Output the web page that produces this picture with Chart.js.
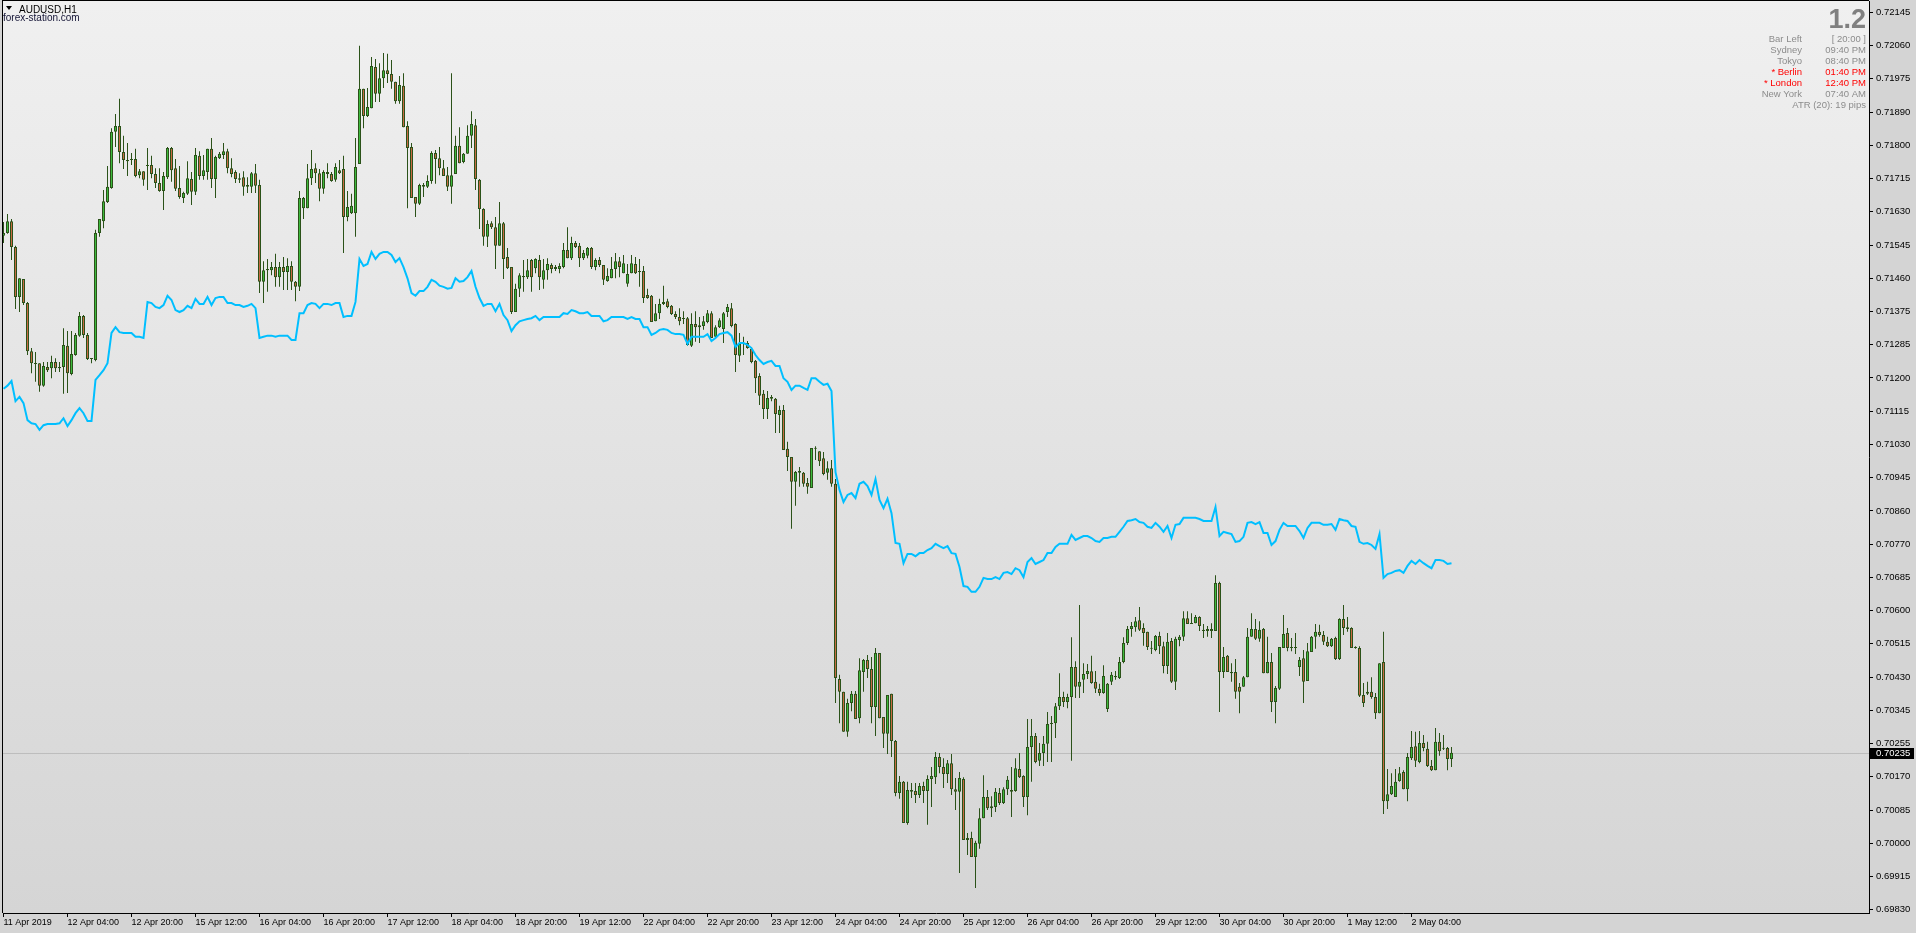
<!DOCTYPE html>
<html><head><meta charset="utf-8">
<script src="https://cdn.jsdelivr.net/npm/chart.js@4.4.1/dist/chart.umd.min.js"></script>
<style>html,body{margin:0;padding:0;background:#d4d4d4;overflow:hidden}canvas{display:block}</style>
</head><body>
<canvas id="c" width="1916" height="933"></canvas>
<script>
const symbolTitle = 'AUDUSD,H1';
const siteName = 'forex-station.com';
const xTickLabels = ['11 Apr 2019','12 Apr 04:00','12 Apr 20:00','15 Apr 12:00','16 Apr 04:00','16 Apr 20:00','17 Apr 12:00','18 Apr 04:00','18 Apr 20:00','19 Apr 12:00','22 Apr 04:00','22 Apr 20:00','23 Apr 12:00','24 Apr 04:00','24 Apr 20:00','25 Apr 12:00','26 Apr 04:00','26 Apr 20:00','29 Apr 12:00','30 Apr 04:00','30 Apr 20:00','1 May 12:00','2 May 04:00'];
const barsPerLabel = 16;
const yTickLabels = ['0.72145','0.72060','0.71975','0.71890','0.71800','0.71715','0.71630','0.71545','0.71460','0.71375','0.71285','0.71200','0.71115','0.71030','0.70945','0.70860','0.70770','0.70685','0.70600','0.70515','0.70430','0.70345','0.70255','0.70170','0.70085','0.70000','0.69915','0.69830'];
const currentPrice = 0.70235;
const infoBig = '1.2';
const infoLabels = ['Bar Left','Sydney','Tokyo','* Berlin','* London','New York'];
const infoValues = ['[ 20:00 ]','09:40 PM','08:40 PM','01:40 PM','12:40 PM','07:40 AM'];
const infoRed = [false,false,false,true,true,false];
const atrText = 'ATR (20): 19 pips';

const opens = [
0.71569,0.71576,0.71606,0.71540,0.71411,0.71457,0.71395,0.71271,0.71240,0.71240,
0.71182,0.71230,0.71227,0.71243,0.71230,0.71230,0.71285,0.71212,0.71261,0.71311,
0.71362,0.71313,0.71251,0.71248,0.71576,0.71606,0.71656,0.71692,0.71837,0.71852,
0.71785,0.71761,0.71764,0.71767,0.71725,0.71735,0.71751,0.71751,0.71728,0.71705,
0.71684,0.71720,0.71795,0.71743,0.71692,0.71666,0.71677,0.71715,0.71682,0.71775,
0.71723,0.71733,0.71793,0.71715,0.71769,0.71777,0.71787,0.71743,0.71733,0.71717,
0.71720,0.71695,0.71695,0.71730,0.71700,0.71450,0.71480,0.71480,0.71488,0.71462,
0.71488,0.71475,0.71491,0.71450,0.71437,0.71640,0.71640,0.71717,0.71743,0.71730,
0.71690,0.71728,0.71728,0.71713,0.71738,0.71741,0.71617,0.71627,0.71627,0.71754,
0.71948,0.71878,0.71898,0.72004,0.71935,0.71975,0.71996,0.71986,0.71966,0.71916,
0.71956,0.71852,0.71798,0.71669,0.71651,0.71700,0.71695,0.71710,0.71782,0.71769,
0.71743,0.71725,0.71695,0.71728,0.71801,0.71759,0.71780,0.71827,0.71854,0.71713,
0.71638,0.71566,0.71601,0.71591,0.71543,0.71601,0.71514,0.71488,0.71372,0.71432,
0.71462,0.71462,0.71506,0.71485,0.71506,0.71455,0.71480,0.71493,0.71483,0.71483,
0.71488,0.71532,0.71511,0.71550,0.71543,0.71511,0.71517,0.71537,0.71488,0.71506,
0.71493,0.71452,0.71459,0.71483,0.71503,0.71472,0.71445,0.71472,0.71496,0.71475,
0.71478,0.71416,0.71414,0.71348,0.71369,0.71393,0.71400,0.71388,0.71367,0.71359,
0.71354,0.71356,0.71285,0.71341,0.71333,0.71336,0.71346,0.71369,0.71308,0.71333,
0.71328,0.71372,0.71382,0.71341,0.71259,0.71290,0.71292,0.71277,0.71246,0.71207,
0.71161,0.71122,0.71153,0.71148,0.71106,0.71119,0.71019,0.70998,0.70934,0.70962,
0.70957,0.70931,0.70918,0.71021,0.71013,0.70995,0.70957,0.70969,0.70929,0.70425,
0.70392,0.70289,0.70363,0.70387,0.70324,0.70443,0.70474,0.70451,0.70353,0.70492,
0.70327,0.70284,0.70387,0.70265,0.70131,0.70160,0.70054,0.70134,0.70136,0.70126,
0.70149,0.70136,0.70167,0.70172,0.70224,0.70198,0.70180,0.70208,0.70141,0.70134,
0.70167,0.70015,0.70015,0.69966,0.70000,0.70066,0.70121,0.70097,0.70095,0.70131,
0.70105,0.70141,0.70139,0.70136,0.70193,0.70175,0.70121,0.70250,0.70278,0.70214,
0.70234,0.70258,0.70309,0.70311,0.70355,0.70379,0.70366,0.70379,0.70456,0.70405,
0.70423,0.70438,0.70445,0.70418,0.70400,0.70389,0.70348,0.70418,0.70430,0.70428,
0.70469,0.70518,0.70554,0.70559,0.70577,0.70557,0.70547,0.70505,0.70500,0.70536,
0.70510,0.70459,0.70523,0.70418,0.70526,0.70534,0.70582,0.70567,0.70569,0.70585,
0.70552,0.70549,0.70554,0.70549,0.70673,0.70443,0.70485,0.70443,0.70443,0.70405,
0.70405,0.70430,0.70534,0.70554,0.70529,0.70554,0.70440,0.70469,0.70366,0.70400,
0.70505,0.70544,0.70505,0.70508,0.70456,0.70479,0.70420,0.70495,0.70534,0.70547,
0.70539,0.70521,0.70510,0.70531,0.70477,0.70580,0.70559,0.70557,0.70505,0.70505,
0.70384,0.70387,0.70392,0.70379,0.70337,0.70469,0.70110,0.70128,0.70121,0.70162,
0.70185,0.70141,0.70221,0.70252,0.70211,0.70260,0.70245,0.70201,0.70190,0.70263,
0.70247,0.70247,0.70219];

const highs = [
0.71604,0.71625,0.71612,0.71543,0.71459,0.71457,0.71398,0.71279,0.71269,0.71240,
0.71243,0.71243,0.71259,0.71253,0.71243,0.71330,0.71323,0.71323,0.71318,0.71372,
0.71364,0.71318,0.71253,0.71584,0.71612,0.71687,0.71749,0.71846,0.71883,0.71922,
0.71827,0.71808,0.71782,0.71793,0.71741,0.71735,0.71795,0.71775,0.71743,0.71743,
0.71733,0.71798,0.71798,0.71767,0.71749,0.71682,0.71761,0.71733,0.71795,0.71787,
0.71777,0.71793,0.71821,0.71775,0.71785,0.71808,0.71793,0.71769,0.71738,0.71730,
0.71735,0.71720,0.71733,0.71754,0.71713,0.71503,0.71509,0.71501,0.71522,0.71501,
0.71514,0.71511,0.71503,0.71452,0.71684,0.71669,0.71754,0.71790,0.71756,0.71741,
0.71738,0.71756,0.71733,0.71756,0.71764,0.71775,0.71684,0.71677,0.71821,0.72059,
0.71948,0.71950,0.72030,0.72025,0.72014,0.72040,0.72038,0.72022,0.71966,0.71981,
0.71988,0.71864,0.71808,0.71669,0.71703,0.71705,0.71725,0.71787,0.71790,0.71798,
0.71764,0.71746,0.71988,0.71827,0.71849,0.71782,0.71854,0.71890,0.71870,0.71715,
0.71640,0.71609,0.71606,0.71617,0.71656,0.71604,0.71537,0.71488,0.71445,0.71472,
0.71506,0.71509,0.71509,0.71511,0.71519,0.71509,0.71511,0.71498,0.71493,0.71498,
0.71550,0.71591,0.71566,0.71555,0.71550,0.71532,0.71540,0.71540,0.71511,0.71514,
0.71493,0.71485,0.71514,0.71524,0.71514,0.71519,0.71496,0.71519,0.71514,0.71509,
0.71491,0.71432,0.71416,0.71393,0.71406,0.71440,0.71406,0.71390,0.71374,0.71382,
0.71374,0.71359,0.71369,0.71374,0.71359,0.71362,0.71377,0.71374,0.71338,0.71356,
0.71372,0.71393,0.71395,0.71343,0.71318,0.71308,0.71297,0.71282,0.71248,0.71214,
0.71171,0.71168,0.71158,0.71150,0.71130,0.71132,0.71037,0.70998,0.70962,0.70972,
0.70959,0.70944,0.71021,0.71026,0.71013,0.71011,0.70987,0.70990,0.70941,0.70436,
0.70392,0.70374,0.70394,0.70394,0.70479,0.70477,0.70487,0.70482,0.70505,0.70492,
0.70327,0.70384,0.70387,0.70268,0.70175,0.70162,0.70160,0.70157,0.70157,0.70157,
0.70160,0.70177,0.70198,0.70237,0.70234,0.70221,0.70216,0.70232,0.70170,0.70185,
0.70172,0.70028,0.70031,0.70008,0.70092,0.70177,0.70139,0.70123,0.70144,0.70144,
0.70146,0.70175,0.70198,0.70221,0.70234,0.70177,0.70322,0.70322,0.70286,0.70260,
0.70278,0.70340,0.70330,0.70363,0.70440,0.70392,0.70387,0.70533,0.70471,0.70616,
0.70466,0.70464,0.70485,0.70446,0.70413,0.70461,0.70415,0.70443,0.70446,0.70482,
0.70533,0.70562,0.70572,0.70585,0.70611,0.70569,0.70547,0.70523,0.70539,0.70547,
0.70521,0.70544,0.70531,0.70534,0.70539,0.70600,0.70600,0.70595,0.70590,0.70587,
0.70567,0.70562,0.70569,0.70693,0.70676,0.70508,0.70487,0.70466,0.70477,0.70415,
0.70433,0.70557,0.70595,0.70580,0.70574,0.70557,0.70534,0.70492,0.70407,0.70508,
0.70590,0.70557,0.70531,0.70544,0.70482,0.70500,0.70518,0.70536,0.70567,0.70565,
0.70549,0.70534,0.70531,0.70534,0.70582,0.70616,0.70585,0.70559,0.70510,0.70510,
0.70415,0.70418,0.70430,0.70389,0.70466,0.70547,0.70193,0.70182,0.70193,0.70198,
0.70190,0.70234,0.70291,0.70289,0.70291,0.70281,0.70263,0.70216,0.70299,0.70286,
0.70281,0.70250,0.70250];

const lows = [
0.71550,0.71574,0.71506,0.71380,0.71372,0.71390,0.71261,0.71214,0.71192,0.71166,
0.71179,0.71217,0.71201,0.71217,0.71217,0.71161,0.71163,0.71209,0.71259,0.71308,
0.71305,0.71248,0.71240,0.71245,0.71566,0.71588,0.71653,0.71690,0.71798,0.71756,
0.71741,0.71723,0.71751,0.71720,0.71717,0.71698,0.71687,0.71717,0.71692,0.71682,
0.71635,0.71715,0.71708,0.71684,0.71664,0.71653,0.71674,0.71648,0.71674,0.71713,
0.71713,0.71713,0.71692,0.71666,0.71767,0.71767,0.71730,0.71720,0.71705,0.71705,
0.71672,0.71679,0.71679,0.71679,0.71421,0.71395,0.71424,0.71467,0.71437,0.71437,
0.71429,0.71429,0.71429,0.71400,0.71426,0.71612,0.71640,0.71700,0.71705,0.71658,
0.71677,0.71717,0.71708,0.71708,0.71728,0.71524,0.71606,0.71625,0.71566,0.71754,
0.71846,0.71875,0.71898,0.71914,0.71914,0.71950,0.71963,0.71948,0.71909,0.71909,
0.71849,0.71640,0.71666,0.71617,0.71648,0.71669,0.71692,0.71703,0.71703,0.71725,
0.71723,0.71684,0.71651,0.71728,0.71756,0.71756,0.71780,0.71795,0.71687,0.71586,
0.71543,0.71540,0.71586,0.71483,0.71543,0.71457,0.71483,0.71367,0.71372,0.71411,
0.71424,0.71457,0.71424,0.71472,0.71429,0.71432,0.71455,0.71472,0.71478,0.71472,
0.71485,0.71511,0.71506,0.71537,0.71488,0.71506,0.71511,0.71483,0.71480,0.71488,
0.71442,0.71450,0.71459,0.71459,0.71462,0.71472,0.71437,0.71472,0.71470,0.71437,
0.71395,0.71406,0.71346,0.71348,0.71354,0.71390,0.71382,0.71364,0.71354,0.71338,
0.71341,0.71285,0.71282,0.71295,0.71292,0.71326,0.71343,0.71305,0.71305,0.71331,
0.71292,0.71359,0.71333,0.71217,0.71243,0.71261,0.71277,0.71240,0.71163,0.71132,
0.71096,0.71096,0.71142,0.71060,0.71060,0.71016,0.70962,0.70813,0.70872,0.70921,
0.70921,0.70903,0.70918,0.70990,0.70975,0.70951,0.70939,0.70921,0.70363,0.70311,
0.70289,0.70276,0.70342,0.70322,0.70311,0.70392,0.70428,0.70311,0.70278,0.70324,
0.70247,0.70232,0.70224,0.70123,0.70116,0.70054,0.70049,0.70118,0.70105,0.70118,
0.70105,0.70049,0.70095,0.70154,0.70182,0.70144,0.70157,0.70126,0.70087,0.69925,
0.70010,0.69971,0.69966,0.69886,0.69987,0.70066,0.70087,0.70069,0.70082,0.70100,
0.70103,0.70126,0.70069,0.70134,0.70170,0.70095,0.70074,0.70160,0.70208,0.70201,
0.70201,0.70211,0.70211,0.70273,0.70345,0.70353,0.70350,0.70214,0.70376,0.70376,
0.70389,0.70425,0.70413,0.70389,0.70382,0.70387,0.70340,0.70410,0.70423,0.70425,
0.70466,0.70513,0.70534,0.70547,0.70549,0.70511,0.70500,0.70490,0.70497,0.70490,
0.70440,0.70438,0.70415,0.70397,0.70510,0.70523,0.70567,0.70567,0.70569,0.70549,
0.70531,0.70534,0.70531,0.70549,0.70340,0.70428,0.70443,0.70418,0.70374,0.70337,
0.70405,0.70430,0.70534,0.70526,0.70521,0.70440,0.70440,0.70340,0.70311,0.70397,
0.70505,0.70497,0.70497,0.70490,0.70433,0.70363,0.70420,0.70495,0.70503,0.70534,
0.70513,0.70508,0.70508,0.70474,0.70474,0.70539,0.70547,0.70505,0.70503,0.70379,
0.70353,0.70384,0.70374,0.70322,0.70337,0.70077,0.70090,0.70126,0.70121,0.70160,
0.70141,0.70110,0.70216,0.70198,0.70208,0.70239,0.70198,0.70188,0.70190,0.70227,
0.70242,0.70190,0.70198];

const closes = [
0.71576,0.71606,0.71540,0.71411,0.71459,0.71395,0.71271,0.71240,0.71238,0.71182,
0.71233,0.71222,0.71243,0.71227,0.71227,0.71287,0.71214,0.71264,0.71313,0.71362,
0.71313,0.71251,0.71253,0.71576,0.71612,0.71658,0.71695,0.71837,0.71852,0.71785,
0.71764,0.71764,0.71767,0.71723,0.71735,0.71713,0.71749,0.71728,0.71705,0.71684,
0.71723,0.71795,0.71738,0.71690,0.71669,0.71679,0.71717,0.71682,0.71777,0.71723,
0.71738,0.71793,0.71715,0.71772,0.71780,0.71787,0.71743,0.71728,0.71715,0.71713,
0.71695,0.71700,0.71730,0.71698,0.71450,0.71480,0.71483,0.71488,0.71462,0.71488,
0.71475,0.71491,0.71450,0.71437,0.71666,0.71666,0.71717,0.71741,0.71730,0.71690,
0.71733,0.71733,0.71710,0.71746,0.71730,0.71617,0.71643,0.71646,0.71746,0.71948,
0.71878,0.71901,0.72007,0.71935,0.71975,0.71996,0.71986,0.71966,0.71916,0.71958,
0.71849,0.71795,0.71666,0.71651,0.71700,0.71695,0.71710,0.71782,0.71767,0.71743,
0.71723,0.71695,0.71725,0.71801,0.71756,0.71780,0.71827,0.71857,0.71715,0.71638,
0.71566,0.71599,0.71591,0.71543,0.71601,0.71509,0.71485,0.71372,0.71432,0.71467,
0.71465,0.71480,0.71462,0.71509,0.71462,0.71480,0.71496,0.71483,0.71488,0.71491,
0.71532,0.71511,0.71550,0.71540,0.71511,0.71524,0.71537,0.71488,0.71506,0.71493,
0.71455,0.71465,0.71483,0.71503,0.71488,0.71498,0.71470,0.71498,0.71472,0.71478,
0.71408,0.71408,0.71346,0.71369,0.71393,0.71398,0.71385,0.71367,0.71359,0.71348,
0.71356,0.71287,0.71341,0.71333,0.71338,0.71348,0.71369,0.71305,0.71333,0.71351,
0.71369,0.71385,0.71336,0.71261,0.71290,0.71292,0.71279,0.71243,0.71201,0.71156,
0.71122,0.71150,0.71148,0.71109,0.71119,0.71016,0.70998,0.70934,0.70959,0.70957,
0.70929,0.70921,0.71021,0.71019,0.70987,0.70954,0.70969,0.70929,0.70428,0.70392,
0.70289,0.70363,0.70387,0.70322,0.70448,0.70474,0.70451,0.70353,0.70492,0.70324,
0.70284,0.70384,0.70265,0.70131,0.70160,0.70054,0.70139,0.70139,0.70126,0.70149,
0.70136,0.70167,0.70175,0.70224,0.70198,0.70180,0.70208,0.70141,0.70134,0.70170,
0.70010,0.70010,0.69966,0.70003,0.70066,0.70121,0.70092,0.70092,0.70134,0.70105,
0.70141,0.70165,0.70134,0.70195,0.70172,0.70121,0.70250,0.70278,0.70211,0.70234,
0.70258,0.70309,0.70311,0.70355,0.70379,0.70366,0.70379,0.70456,0.70405,0.70418,
0.70438,0.70446,0.70415,0.70400,0.70389,0.70433,0.70413,0.70436,0.70433,0.70469,
0.70518,0.70554,0.70562,0.70574,0.70552,0.70544,0.70508,0.70503,0.70536,0.70510,
0.70459,0.70521,0.70418,0.70529,0.70534,0.70582,0.70567,0.70569,0.70585,0.70562,
0.70549,0.70554,0.70549,0.70673,0.70443,0.70482,0.70443,0.70440,0.70392,0.70392,
0.70430,0.70534,0.70554,0.70529,0.70552,0.70440,0.70469,0.70366,0.70402,0.70508,
0.70541,0.70505,0.70506,0.70505,0.70474,0.70418,0.70497,0.70534,0.70547,0.70539,
0.70521,0.70510,0.70529,0.70477,0.70580,0.70557,0.70554,0.70505,0.70508,0.70382,
0.70363,0.70392,0.70379,0.70337,0.70466,0.70110,0.70128,0.70149,0.70160,0.70182,
0.70141,0.70224,0.70250,0.70214,0.70260,0.70247,0.70201,0.70190,0.70263,0.70239,
0.70245,0.70219,0.70235];

const blueLine = [
0.71174,0.71182,0.71194,0.71142,0.71153,0.71137,0.71093,0.71085,0.71083,0.71068,
0.71080,0.71083,0.71083,0.71083,0.71085,0.71098,0.71078,0.71093,0.71111,0.71124,
0.71111,0.71091,0.71091,0.71197,0.71209,0.71222,0.71240,0.71318,0.71333,0.71320,
0.71318,0.71318,0.71318,0.71308,0.71308,0.71305,0.71398,0.71395,0.71385,0.71382,
0.71390,0.71414,0.71403,0.71377,0.71372,0.71377,0.71388,0.71382,0.71406,0.71393,
0.71393,0.71411,0.71390,0.71408,0.71411,0.71411,0.71395,0.71395,0.71390,0.71390,
0.71385,0.71388,0.71393,0.71382,0.71305,0.71308,0.71311,0.71311,0.71308,0.71311,
0.71311,0.71311,0.71300,0.71300,0.71369,0.71369,0.71390,0.71395,0.71393,0.71382,
0.71393,0.71393,0.71390,0.71395,0.71395,0.71359,0.71362,0.71362,0.71398,0.71509,
0.71491,0.71496,0.71527,0.71509,0.71522,0.71527,0.71527,0.71519,0.71501,0.71511,
0.71488,0.71459,0.71421,0.71414,0.71426,0.71426,0.71437,0.71455,0.71450,0.71440,
0.71437,0.71432,0.71434,0.71459,0.71450,0.71452,0.71462,0.71478,0.71437,0.71408,
0.71388,0.71393,0.71393,0.71374,0.71393,0.71364,0.71351,0.71323,0.71338,0.71348,
0.71351,0.71354,0.71356,0.71362,0.71351,0.71359,0.71359,0.71359,0.71359,0.71359,
0.71369,0.71367,0.71377,0.71374,0.71369,0.71369,0.71372,0.71362,0.71362,0.71362,
0.71348,0.71351,0.71359,0.71359,0.71359,0.71359,0.71354,0.71359,0.71354,0.71354,
0.71333,0.71333,0.71313,0.71318,0.71326,0.71328,0.71326,0.71318,0.71315,0.71315,
0.71313,0.71290,0.71308,0.71308,0.71308,0.71308,0.71315,0.71297,0.71305,0.71315,
0.71318,0.71320,0.71311,0.71282,0.71292,0.71292,0.71287,0.71279,0.71261,0.71248,
0.71238,0.71243,0.71246,0.71233,0.71233,0.71201,0.71192,0.71171,0.71182,0.71182,
0.71176,0.71171,0.71201,0.71201,0.71192,0.71184,0.71187,0.71168,0.70959,0.70913,
0.70882,0.70900,0.70905,0.70892,0.70929,0.70934,0.70923,0.70900,0.70941,0.70887,
0.70866,0.70890,0.70853,0.70776,0.70774,0.70724,0.70748,0.70748,0.70742,0.70750,
0.70750,0.70758,0.70763,0.70774,0.70768,0.70763,0.70768,0.70750,0.70748,0.70714,
0.70665,0.70663,0.70650,0.70650,0.70663,0.70686,0.70683,0.70683,0.70688,0.70683,
0.70699,0.70701,0.70696,0.70711,0.70706,0.70688,0.70727,0.70737,0.70722,0.70727,
0.70732,0.70750,0.70750,0.70766,0.70774,0.70774,0.70774,0.70797,0.70784,0.70789,
0.70794,0.70794,0.70789,0.70781,0.70779,0.70789,0.70789,0.70792,0.70792,0.70805,
0.70818,0.70833,0.70835,0.70838,0.70830,0.70828,0.70818,0.70815,0.70828,0.70818,
0.70805,0.70820,0.70789,0.70823,0.70825,0.70841,0.70841,0.70841,0.70841,0.70838,
0.70833,0.70833,0.70833,0.70869,0.70794,0.70805,0.70802,0.70799,0.70779,0.70781,
0.70792,0.70828,0.70830,0.70825,0.70830,0.70802,0.70802,0.70771,0.70781,0.70810,
0.70828,0.70820,0.70820,0.70820,0.70807,0.70789,0.70815,0.70828,0.70828,0.70828,
0.70823,0.70823,0.70825,0.70810,0.70838,0.70835,0.70833,0.70820,0.70818,0.70779,
0.70774,0.70776,0.70771,0.70761,0.70799,0.70686,0.70696,0.70699,0.70704,0.70706,
0.70699,0.70717,0.70730,0.70722,0.70732,0.70724,0.70717,0.70711,0.70732,0.70732,
0.70730,0.70722,0.70724];

// ---- styling ----
const BULL = '#3dba3d', BEAR = '#c76a43', EDGE = '#2b5219', LINE = '#00bfff';
const FONT = 'Liberation Sans';

const n = closes.length;
const idx = Array.from({length: n}, (_, i) => i);
const bodyData = idx.map(i => ({x: i, y: [Math.min(opens[i], closes[i]), Math.max(opens[i], closes[i])]}));
const wickData = idx.map(i => ({x: i, y: [lows[i], highs[i]]}));
const bodyColors = idx.map(i => closes[i] >= opens[i] ? BULL : BEAR);
const lineData = idx.map(i => ({x: i, y: blueLine[i]}));
const xTickVals = xTickLabels.map((_, k) => k * barsPerLabel);
const yTop = parseFloat(yTickLabels[0]), yBot = parseFloat(yTickLabels[yTickLabels.length - 1]);
const yStep = (yTop - yBot) / (yTickLabels.length - 1);
const yTickVals = yTickLabels.map((_, k) => yTop - k * yStep);

const decor = {
  id: 'decor',
  beforeDraw(chart) {
    const {ctx, chartArea: a} = chart;
    ctx.save();
    ctx.fillStyle = '#d4d4d4';
    ctx.fillRect(0, 0, chart.width, chart.height);
    const g = ctx.createLinearGradient(0, a.top, 0, a.bottom);
    g.addColorStop(0, '#f0f0f0');
    g.addColorStop(1, '#d5d5d5');
    ctx.fillStyle = g;
    ctx.fillRect(a.left, a.top, a.right - a.left, a.bottom - a.top);
    ctx.restore();
  },
  beforeDatasetsDraw(chart) {
    const {ctx, chartArea: a} = chart;
    const y = Math.round(chart.scales.y.getPixelForValue(currentPrice)) + 0.5;
    ctx.save();
    ctx.strokeStyle = '#bdbdbd';
    ctx.lineWidth = 1;
    ctx.beginPath();
    ctx.moveTo(a.left, y);
    ctx.lineTo(a.right, y);
    ctx.stroke();
    ctx.restore();
  },
  afterDraw(chart) {
    const {ctx, chartArea: a} = chart;
    ctx.save();
    ctx.fillStyle = '#000';
    ctx.fillRect(a.left - 1, 0, 1, a.bottom);
    ctx.fillRect(a.left - 1, 0, a.right - a.left + 1, 1);
    ctx.beginPath();
    ctx.moveTo(6, 6); ctx.lineTo(12, 6); ctx.lineTo(9, 10); ctx.closePath();
    ctx.fill();
    ctx.font = '10px "' + FONT + '"';
    ctx.textBaseline = 'alphabetic';
    ctx.textAlign = 'left';
    ctx.fillStyle = '#000';
    ctx.fillText(symbolTitle, 19, 13);
    ctx.fillStyle = '#141436';
    ctx.fillText(siteName, 3, 21);
    ctx.textAlign = 'right';
    ctx.fillStyle = '#808080';
    ctx.font = 'bold 27px "' + FONT + '"';
    ctx.fillText(infoBig, 1866, 28);
    ctx.font = '9.5px "' + FONT + '"';
    infoLabels.forEach((lab, k) => {
      ctx.fillStyle = infoRed[k] ? '#ff0000' : '#8c8c8c';
      ctx.fillText(lab, 1802, 42 + 11 * k);
      ctx.fillText(infoValues[k], 1866, 42 + 11 * k);
    });
    ctx.fillStyle = '#8c8c8c';
    ctx.fillText(atrText, 1866, 108);
    const yp = Math.round(chart.scales.y.getPixelForValue(currentPrice));
    ctx.fillStyle = '#000';
    ctx.fillRect(a.right + 1, yp - 5, 44, 11);
    ctx.fillStyle = '#fff';
    ctx.textAlign = 'left';
    ctx.textBaseline = 'middle';
    ctx.font = '9.5px "' + FONT + '"';
    ctx.fillText(currentPrice.toFixed(5), a.right + 7, yp + 0.5);
    ctx.restore();
  }
};

new Chart(document.getElementById('c'), {
  type: 'bar',
  data: {
    datasets: [
      {type: 'line', data: lineData, borderColor: LINE, borderWidth: 2, pointRadius: 0, tension: 0, order: 0},
      {type: 'bar', data: bodyData, backgroundColor: bodyColors, borderColor: EDGE, borderWidth: 1,
       borderSkipped: false, barThickness: 3, grouped: false, minBarLength: 1, inflateAmount: 0, order: 1},
      {type: 'bar', data: wickData, backgroundColor: EDGE, borderWidth: 0, borderSkipped: false,
       barThickness: 1, grouped: false, inflateAmount: 0, order: 2}
    ]
  },
  options: {
    responsive: false,
    devicePixelRatio: 1,
    animation: false,
    events: [],
    layout: {padding: {left: 3, top: 1, right: 0, bottom: 0}},
    plugins: {legend: {display: false}, tooltip: {enabled: false}, title: {display: false}},
    scales: {
      x: {
        type: 'linear', position: 'bottom', min: -0.125, max: 466.375, offset: false,
        afterFit(s) { s.height = 20; s.paddingLeft = 0; s.paddingRight = 0; },
        afterBuildTicks(s) { s.ticks = xTickVals.map(v => ({value: v})); },
        ticks: {autoSkip: false, maxRotation: 0, minRotation: 0, align: 'start', padding: 0, color: '#000',
                font: {family: FONT, size: 9}, callback: (v, i) => xTickLabels[i]},
        grid: {drawOnChartArea: false, drawTicks: true, tickLength: 4, color: '#000', offset: false},
        border: {display: true, color: '#000', width: 1}
      },
      y: {
        type: 'linear', position: 'right', min: 0.698215, max: 0.721744,
        afterFit(s) { s.width = 47; s.paddingTop = 0; s.paddingBottom = 0; },
        afterBuildTicks(s) { s.ticks = yTickVals.map(v => ({value: v})); },
        ticks: {autoSkip: false, padding: 3, color: '#000', font: {family: FONT, size: 9.5},
                callback: (v, i) => yTickLabels[i]},
        grid: {drawOnChartArea: false, drawTicks: true, tickLength: 4, color: '#000'},
        border: {display: true, color: '#000', width: 1}
      }
    }
  },
  plugins: [decor]
});
</script>
</body></html>
